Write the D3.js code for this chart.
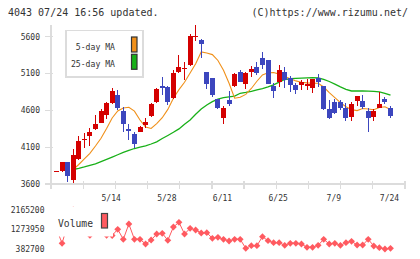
<!DOCTYPE html>
<html>
<head>
<meta charset="utf-8">
<script src="https://cdn.jsdelivr.net/npm/d3@7"></script>
<style>
  body { margin: 0; background: #fff; }
  text { font-family: "DejaVu Sans Mono", monospace; fill: #333; }
</style>
</head>
<body>
<script>
// chart size
const width = 420;
const height = 259;

// data
const dates = ["4/25","4/26","4/30","5/1","5/2","5/7","5/8","5/9","5/10","5/13",
  "5/14","5/15","5/16","5/17","5/20","5/21","5/22","5/23","5/24","5/27",
  "5/28","5/29","5/30","5/31","6/3","6/4","6/5","6/6","6/7","6/10",
  "6/11","6/12","6/13","6/14","6/17","6/18","6/19","6/20","6/21","6/24",
  "6/25","6/26","6/27","6/28","7/1","7/2","7/3","7/4","7/5","7/8",
  "7/9","7/10","7/11","7/12","7/16","7/17","7/18","7/19","7/22","7/23","7/24"];

const opens  = [3776,3770,3900,3655,3935,4195,4250,4340,4435,4535,
  4695,4810,4595,4340,4275,4310,4405,4530,4715,4935,
  4920,4770,5115,5160,5215,5590,5555,5120,5035,4755,
  4500,4740,4935,5120,4955,5125,5190,5310,5285,4930,
  4985,5120,5040,4945,4950,4935,4905,5040,4930,4620,
  4715,4715,4630,4510,4730,4725,4590,4510,4630,4755,4630];
const highs  = [3776,3900,3900,4070,4250,4290,4355,4540,4620,4715,
  4900,4875,4650,4410,4300,4385,4490,4705,4905,5050,
  4935,5150,5355,5255,5630,5760,5570,5120,5040,4755,
  4660,4865,5105,5150,5125,5200,5250,5390,5285,4975,
  5220,5195,5065,4970,5010,5030,5030,5095,4930,4740,
  4755,4740,4700,4715,4795,4810,4630,4620,4850,4780,4660];
const lows   = [3776,3765,3625,3615,3925,4085,4115,4335,4425,4485,
  4685,4605,4310,4195,4095,4300,4355,4515,4705,4810,
  4670,4755,5110,5015,5205,5545,5305,4890,4775,4615,
  4420,4660,4920,4985,4895,5055,5085,5165,4960,4770,
  4920,4905,4855,4825,4875,4875,4840,4915,4605,4480,
  4550,4605,4455,4460,4665,4620,4305,4455,4630,4690,4495];
const closes = [3776,3900,3710,3995,4185,4205,4305,4420,4595,4705,
  4865,4635,4410,4325,4145,4375,4440,4685,4890,4910,
  4720,5105,5195,5170,5615,5615,5495,4960,4805,4635,
  4635,4690,5095,4990,5110,5160,5110,5220,4960,4865,
  5150,5010,4950,4880,4985,4960,5025,4985,4620,4495,
  4565,4635,4495,4685,4795,4645,4495,4590,4685,4715,4525];

const ma5 = [null,null,null,3797,3865,3940,4016,4116,4221,4354,
  4496,4591,4632,4642,4589,4469,4374,4354,4420,4500,
  4613,4765,4882,4981,5106,5232,5393,5379,5357,5277,
  5144,4968,4765,4779,4817,4897,4995,5080,5111,5113,
  5092,5061,5030,5000,4982,4973,4968,4968,4917,4841,
  4773,4705,4650,4610,4597,4625,4619,4608,4638,4648,4612];
const ma25 = [null,null,null,3797,3813,3832,3853,3874,3904,3934,
  3965,3997,4029,4056,4082,4100,4119,4143,4173,4217,
  4259,4302,4348,4411,4470,4547,4617,4673,4719,4752,
  4772,4784,4794,4832,4844,4858,4878,4896,4919,4946,
  4984,5019,5029,5034,5038,5042,5044,5039,5020,4992,
  4957,4919,4885,4863,4863,4863,4862,4859,4852,4832,4806];

const volumes = [1300000,643000,1500000,2165200,1650000,1300000,1010000,1400000,1250000,1010000,
  1000000,1283000,826000,1525000,826000,826000,611000,794000,1068000,1100000,
  780000,1388000,1603000,1068000,1328000,1251000,1114000,1128000,872000,917000,
  826000,748000,826000,826000,414000,534000,534000,945000,762000,671000,
  671000,552000,643000,643000,611000,460000,460000,552000,826000,611000,
  643000,552000,671000,735000,565000,565000,826000,520000,442000,382700,414000];

const priceTicks = [3600, 4100, 4600, 5100, 5600];
const volumeTicks = [382700, 1273950, 2165200];
const dateLabels = ["5/14", "5/28", "6/11", "6/25", "7/9", "7/24"];
const maLegend = [
  { name: "5-day MA", color: "#f0901a" },
  { name: "25-day MA", color: "#18b018" }
];

const upColor = "#d40000";
const downColor = "#3c46be";
const volColor = "#ff5a60";
const gridColor = "#dcdcdc";

const svg = d3.select("body").append("svg")
  .attr("width", width)
  .attr("height", height);

// scales
const x = d3.scalePoint().domain(dates).range([56.5, 390.5]);
const y = d3.scaleLinear().domain([3600, 5600]).range([184, 36.7]);
const yv = d3.scaleLinear().domain([382700, 2165200]).range([249, 210]);
const div = d3.scaleLinear().domain([0, 11]).range([51, 405]);

// header
svg.append("text").attr("x", 8).attr("y", 16)
  .style("font-size", "10px").text("4043 07/24 16:56 updated.");
svg.append("text").attr("x", 408).attr("y", 16).attr("text-anchor", "end")
  .style("font-size", "10px").text("(C)https://www.rizumu.net/");

// frame
const frame = svg.append("g").attr("shape-rendering", "crispEdges")
  .attr("stroke", gridColor).attr("stroke-width", 1.3);
frame.append("line").attr("x1", 51).attr("x2", 51).attr("y1", 25).attr("y2", 188.5);
frame.append("line").attr("x1", 51).attr("x2", 405).attr("y1", 184).attr("y2", 184);
frame.selectAll(".vt").data(d3.range(12)).enter().append("line")
  .attr("x1", d => div(d)).attr("x2", d => div(d))
  .attr("y1", 181).attr("y2", 188.5);
frame.selectAll(".ht").data(priceTicks).enter().append("line")
  .attr("x1", 45).attr("x2", 53)
  .attr("y1", d => y(d)).attr("y2", d => y(d));

// price tick labels
svg.append("g").attr("text-anchor", "end")
  .selectAll("text").data(priceTicks).enter().append("text")
  .attr("x", 40).attr("y", d => y(d)).attr("dy", "0.35em")
  .style("font-size", "8px")
  .text(d => d);

// date labels
svg.append("g").attr("text-anchor", "middle")
  .selectAll("text").data(dateLabels).enter().append("text")
  .attr("x", d => x(d) - 1).attr("y", 200.5)
  .style("font-size", "8px")
  .text(d => d);

// moving averages
const maLine = d3.line()
  .defined(d => d[1] != null)
  .x(d => x(d[0]))
  .y(d => y(d[1]));
svg.append("path")
  .attr("d", maLine(dates.map((d, i) => [d, ma25[i]])))
  .attr("fill", "none").attr("stroke", maLegend[1].color).attr("stroke-width", 1.3);
svg.append("path")
  .attr("d", maLine(dates.map((d, i) => [d, ma5[i]])))
  .attr("fill", "none").attr("stroke", maLegend[0].color).attr("stroke-width", 1.1);

// candles
const candles = svg.append("g").attr("shape-rendering", "crispEdges")
  .selectAll("g").data(dates).enter().append("g");
candles.append("line")
  .attr("x1", d => Math.floor(x(d)) + 0.5).attr("x2", d => Math.floor(x(d)) + 0.5)
  .attr("y1", (d, i) => y(highs[i])).attr("y2", (d, i) => y(lows[i]))
  .attr("stroke", (d, i) => closes[i] >= opens[i] ? upColor : downColor);
candles.append("rect")
  .attr("x", d => Math.round(x(d) - 2.5))
  .attr("width", 5)
  .attr("y", (d, i) => y(Math.max(opens[i], closes[i])))
  .attr("height", (d, i) => Math.max(1, Math.abs(y(opens[i]) - y(closes[i]))))
  .attr("fill", (d, i) => closes[i] >= opens[i] ? upColor : downColor);

// MA legend
const leg = svg.append("g");
leg.append("rect").attr("x", 66).attr("y", 30.5).attr("width", 77).attr("height", 46.5)
  .attr("fill", "#fff").attr("stroke", gridColor).attr("stroke-width", 1.3)
  .attr("shape-rendering", "crispEdges");
leg.selectAll("text").data(maLegend).enter().append("text")
  .attr("x", 115).attr("y", (d, i) => 49.5 + i * 17)
  .attr("text-anchor", "end")
  .attr("textLength", d => d.name.length * 4.9)
  .attr("lengthAdjust", "spacingAndGlyphs")
  .style("font-size", "9.5px")
  .text(d => d.name);
leg.selectAll("rect.sw").data(maLegend).enter().append("rect")
  .attr("class", "sw")
  .attr("x", 131.5).attr("y", (d, i) => 37 + i * 17.3)
  .attr("width", 5.5).attr("height", 15)
  .attr("fill", d => d.color).attr("stroke", "#333").attr("stroke-width", 1.2);

// volume tick labels
svg.append("g").attr("text-anchor", "end")
  .selectAll("text").data(volumeTicks).enter().append("text")
  .attr("x", 44.5).attr("y", d => yv(d)).attr("dy", "0.35em")
  .style("font-size", "8px")
  .text(d => d);

// volume line and points
svg.append("path")
  .attr("d", d3.line().x(d => x(d[0])).y(d => yv(d[1]))(dates.map((d, i) => [d, volumes[i]])))
  .attr("fill", "none").attr("stroke", volColor).attr("stroke-width", 1);
svg.append("g").selectAll("path").data(dates).enter().append("path")
  .attr("transform", (d, i) => `translate(${x(d)},${yv(volumes[i])})`)
  .attr("d", "M0,-3.4L3.4,0L0,3.4L-3.4,0Z")
  .attr("fill", volColor);

// volume legend
svg.append("rect").attr("x", 53).attr("y", 207).attr("width", 60).attr("height", 29.5)
  .attr("fill", "#fff");
svg.append("text").attr("x", 58).attr("y", 226.5)
  .attr("textLength", 35).attr("lengthAdjust", "spacingAndGlyphs")
  .style("font-size", "10.5px").text("Volume");
svg.append("rect").attr("x", 101.5).attr("y", 213.5).attr("width", 6).attr("height", 14.5)
  .attr("fill", volColor).attr("stroke", "#444").attr("stroke-width", 1.2);
</script>
</body>
</html>
